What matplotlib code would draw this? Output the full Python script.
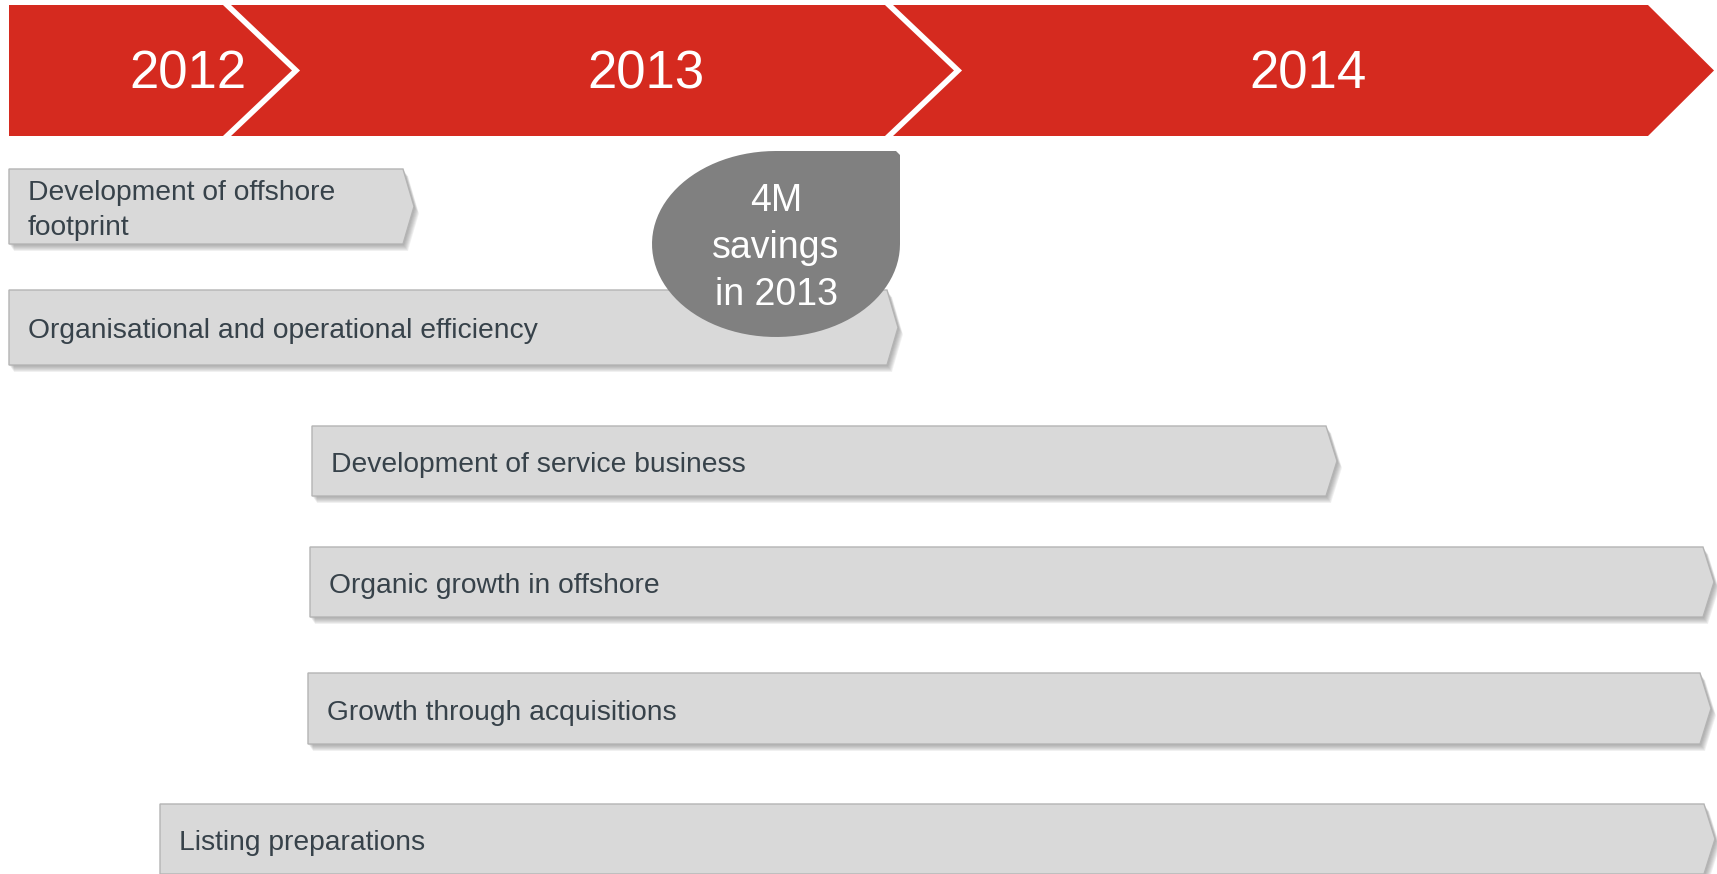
import numpy as np
import matplotlib
matplotlib.use('Agg')
import matplotlib.pyplot as plt
from matplotlib.patches import Polygon, PathPatch
from matplotlib.path import Path

plt.rcParams['font.family'] = ['Liberation Sans', 'DejaVu Sans']

# Timeline header (x in chart units)
years = ['2012', '2013', '2014']
year_x = [188, 646, 1308]
chevron_x = [227, 889]          # where each year block starts its chevron
band_start, band_end = 9, 1648

# Workstreams
tasks = ['Development of offshore\nfootprint',
         'Organisational and operational efficiency',
         'Development of service business',
         'Organic growth in offshore',
         'Growth through acquisitions',
         'Listing preparations']
task_start = [9, 9, 312, 310, 308, 160]
task_end = [403, 887, 1326, 1703, 1700, 1704]
task_top = [169, 290, 426, 547, 673, 804]
task_bottom = [244, 365, 496, 617, 744, 874]

callout = ['4M', 'savings', 'in 2013']

RED = '#d52a1f'
BAR = '#d9d9d9'
TXT = '#37424a'

fig = plt.figure(figsize=(17.17, 8.74), dpi=100)
ax = fig.add_axes([0, 0, 1, 1])
ax.set_xlim(0, 1717)
ax.set_ylim(874, 0)
ax.axis('off')

# red band with arrow head
band_top, band_bot = 5, 136
band_mid = (band_top + band_bot) / 2
tip = 66
ax.add_patch(Polygon([(band_start, band_top), (band_end, band_top),
                      (band_end + tip, band_mid), (band_end, band_bot),
                      (band_start, band_bot)], closed=True,
                     facecolor=RED, edgecolor='none', zorder=2))
for cx in chevron_x:
    ax.plot([cx, cx + 69, cx], [band_top, band_mid, band_bot], color='white',
            lw=4, solid_joinstyle='miter', zorder=3)
for y, x in zip(years, year_x):
    ax.text(x, band_mid + 4, y, color='white', fontsize=38, ha='center',
            va='center', zorder=4)

# workstream bars
for name, x0, x1, y0, y1 in zip(tasks, task_start, task_end, task_top, task_bottom):
    ym = (y0 + y1) / 2
    pts = [(x0, y0), (x1, y0), (x1 + 11, ym), (x1, y1), (x0, y1)]
    for k in range(7):
        d = 1 + k
        sh = [(px + d * 0.7, py + d) for px, py in pts]
        ax.add_patch(Polygon(sh, closed=True, facecolor='#6e6e6e',
                             edgecolor='none', alpha=0.10, zorder=4))
    ax.add_patch(Polygon(pts, closed=True, facecolor=BAR, edgecolor='#b4b4b4',
                         lw=1, zorder=5))
    ax.text(x0 + 19, ym + 4, name, color=TXT, fontsize=20.3, ha='left',
            va='center', linespacing=1.42, zorder=6)

# callout bubble: ellipse with a square top-right corner
cx, cy, rx, ry = 776, 244, 124, 93
t = np.linspace(0, 1.5 * np.pi, 80)
verts = [(cx, cy - ry), (cx + rx - 4, cy - ry), (cx + rx, cy - ry + 4)]
verts += list(zip(cx + rx * np.cos(t), cy + ry * np.sin(t)))
codes = [Path.MOVETO] + [Path.LINETO] * (len(verts) - 1)
verts.append(verts[0])
codes.append(Path.CLOSEPOLY)
ax.add_patch(PathPatch(Path(verts, codes), facecolor='#808080',
                       edgecolor='none', zorder=7))
ax.text(cx, 248, '\n'.join(callout), color='white', fontsize=27,
        ha='center', va='center', linespacing=1.38, zorder=8)

fig.savefig('out.png', dpi=100)
